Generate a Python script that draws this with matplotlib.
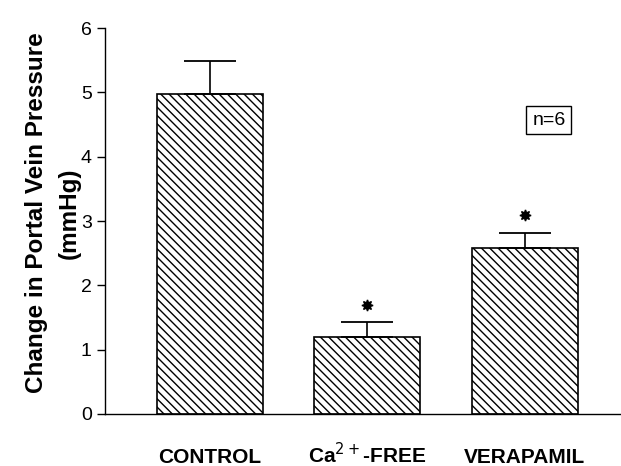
import matplotlib
matplotlib.use("Agg")
import matplotlib.pyplot as plt
import numpy as np

plt.rcParams['font.family'] = ['Liberation Sans', 'DejaVu Sans']

groups = ["CONTROL", "Ca$^{2+}$-FREE", "VERAPAMIL"]
means = [4.98, 1.20, 2.58]
sems = [0.51, 0.23, 0.23]
star_y = [None, 1.70, 3.09]

fig = plt.figure(figsize=(6.21, 4.66), dpi=100)
ax = fig.add_axes([0.169, 0.1116, 0.831, 0.828])

x = np.arange(len(groups))
ax.bar(x, means, width=0.674, color="white", edgecolor="black",
       hatch="\\\\\\\\", linewidth=1.2, zorder=2)
ax.errorbar(x, means, yerr=[np.zeros(len(sems)), sems], fmt="none",
            ecolor="black", elinewidth=1.2, capsize=19, capthick=1.3, zorder=3)
for xi, sy in zip(x, star_y):
    if sy is not None:
        ax.plot(xi, sy, marker=(8, 1, 0), color="black", markersize=8,
                linestyle="none")

ax.text(2.155, 4.57, "n=6", ha="center", va="center", fontsize=14,
        bbox=dict(boxstyle="square,pad=0.3", facecolor="white",
                  edgecolor="black", linewidth=1))

ax.set_xlim(-0.667, 2.613)
ax.set_ylim(0, 6)
ax.set_yticks(range(7))
ax.set_xticks([])
for xi, g in zip(x, groups):
    ax.text(xi, -0.128, g, transform=ax.get_xaxis_transform(),
            ha="center", va="baseline", fontsize=15, fontweight="bold")
ax.tick_params(axis="y", labelsize=14, length=6, width=1, direction="out")
ax.spines["top"].set_visible(False)
ax.spines["right"].set_visible(False)
ax.spines["left"].set_linewidth(1)
ax.spines["bottom"].set_linewidth(1)

fig.text(53 / 621, 1 - 213 / 466, "Change in Portal Vein Pressure\n(mmHg)",
         rotation=90, ha="center", va="center", multialignment="center",
         fontsize=17.5, fontweight="bold", linespacing=1.55)

plt.savefig("out.png", dpi=100)
